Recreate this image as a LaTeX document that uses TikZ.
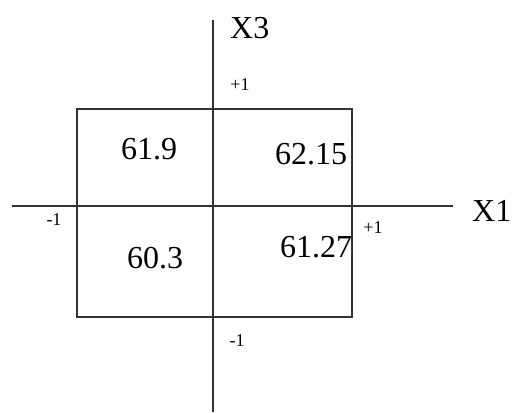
\documentclass[tikz,border=0pt]{standalone}
\usepackage{fontspec}
\setmainfont{Liberation Serif}
\begin{document}
\begin{tikzpicture}[x=1pt,y=-1pt,
  ln/.style={draw=black!80,line width=1.8pt},
  big/.style={inner sep=0pt,anchor=base,font=\fontsize{32}{32}\selectfont},
  axlab/.style={inner sep=0pt,anchor=base west,font=\fontsize{32}{32}\selectfont},
  small/.style={inner sep=0pt,anchor=base,font=\fontsize{18}{18}\selectfont}]
\useasboundingbox (0,0) rectangle (513,412);
% axes
\coordinate (vtop) at (213,20);
\coordinate (vbot) at (213,412);
\coordinate (hl) at (12,206);
\coordinate (hr) at (453,206);
\draw[ln] (vtop) -- (vbot);
\draw[ln] (hl) -- (hr);
% box
\coordinate (bl) at (77,317);
\coordinate (tr) at (352,109);
\draw[ln] (bl) rectangle (tr);
% axis labels
\node[axlab] (x3) at (230,38) {X3};
\node[axlab] (x1) at (472,221) {X1};
% ticks
\node[small] (p1t) at (240,90) {+1};
\node[small] (m1l) at (54,225) {-1};
\node[small] (p1r) at (373,233) {+1};
\node[small] (m1b) at (237,346) {-1};
% values
\node[big] (v1) at (149,159) {61.9};
\node[big] (v2) at (311,164) {62.15};
\node[big] (v3) at (155,268) {60.3};
\node[big] (v4) at (316,257) {61.27};
\end{tikzpicture}
\end{document}
